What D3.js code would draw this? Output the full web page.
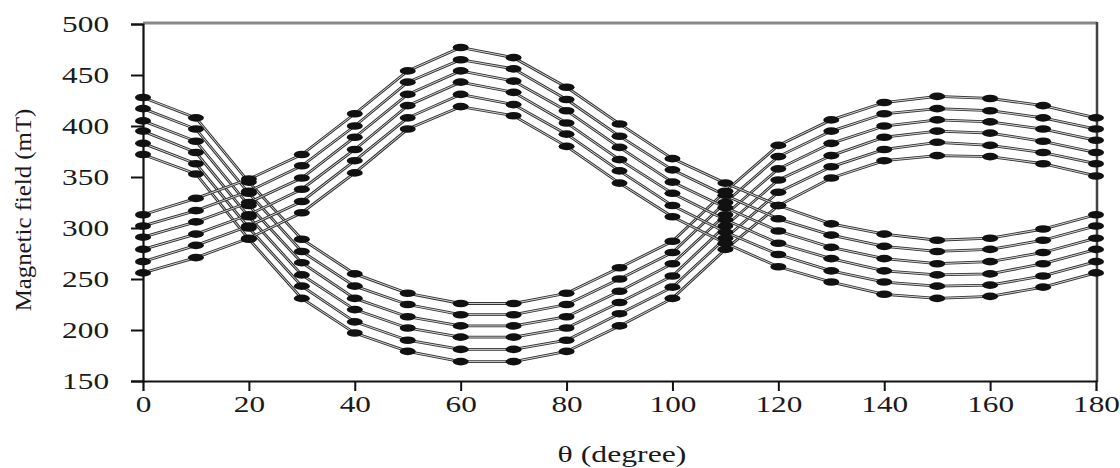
<!DOCTYPE html>
<html><head><meta charset="utf-8">
<script src="https://cdn.jsdelivr.net/npm/d3@7"></script>
<style>
html,body{margin:0;padding:0;background:#fff;}
text{font-family:"Liberation Serif","Times New Roman",serif;fill:#1a1a1a;}
</style></head>
<body><svg id="c" width="1120" height="468"></svg>
<script>
const theta = [0,10,20,30,40,50,60,70,80,90,100,110,120,130,140,150,160,170,180];
const xTicks = [0,20,40,60,80,100,120,140,160,180];
const yTicks = [150,200,250,300,350,400,450,500];

const a1 = [428,408,345,289,255,236,226,226,236,261,287,336,381,406,423,429,427,420,408];
const a2 = [417,397,334,277,243,225,215,215,225,250,276,325,370,395,412,417,415,408,397];
const a3 = [405,385,322,266,231,213,204,204,213,238,265,313,358,383,400,406,404,397,386];
const a4 = [395,374,311,254,220,202,193,193,202,227,253,302,347,371,389,395,393,385,374];
const a5 = [383,363,300,243,208,190,181,181,190,216,242,290,335,360,377,384,381,374,363];
const a6 = [372,353,289,231,197,179,169,169,179,204,231,279,322,349,366,371,370,363,351];

const b1 = [313,329,348,372,412,454,477,467,438,402,368,344,322,304,294,288,290,299,313];
const b2 = [302,317,336,361,400,443,465,456,426,390,357,332,309,293,282,277,279,288,302];
const b3 = [291,306,325,349,389,431,454,444,415,379,345,320,297,281,270,265,267,276,290];
const b4 = [279,294,313,338,377,420,443,433,403,367,334,308,285,270,258,254,255,265,279];
const b5 = [267,283,302,326,366,408,431,421,392,356,322,296,274,258,247,243,244,253,267];
const b6 = [256,271,290,315,354,397,419,410,380,344,311,285,262,247,235,231,233,242,256];

const series = [a1,a2,a3,a4,a5,a6,b1,b2,b3,b4,b5,b6];

const L = 143, R = 1096, T = 24, B = 381;
const svg = d3.select("#c");
const x = d3.scaleLinear().domain([0,180]).range([L,R]);
const y = d3.scaleLinear().domain([150,500]).range([B,T]);

// frame
svg.append("line").attr("x1",L).attr("x2",R+1).attr("y1",T-1).attr("y2",T-1)
  .attr("stroke","#888").attr("stroke-width",3);
svg.append("line").attr("x1",R+1).attr("x2",R+1).attr("y1",T-2).attr("y2",B+1)
  .attr("stroke","#444").attr("stroke-width",2.5);

// axes
const xAxis = svg.append("g").attr("transform",`translate(0,${B})`)
  .call(d3.axisBottom(x).tickValues(xTicks).tickSizeOuter(0).tickSize(10).tickPadding(5));
xAxis.selectAll(".tick").filter(d=>d===0||d===180).select("line").remove();
xAxis.select(".domain").attr("stroke","#111").attr("stroke-width",2.2);
xAxis.selectAll(".tick line").attr("stroke","#111").attr("stroke-width",2);
xAxis.selectAll(".tick text").attr("font-size",23).attr("fill","#1a1a1a")
  .attr("transform","scale(1.36,1)").attr("font-family","Liberation Serif");

const yAxis = svg.append("g").attr("transform",`translate(${L},0)`)
  .call(d3.axisLeft(y).tickValues(yTicks).tickSizeOuter(0).tickSize(12).tickPadding(12));
yAxis.select(".domain").attr("stroke","#111").attr("stroke-width",2.2);
yAxis.selectAll(".tick line").attr("stroke","#111").attr("stroke-width",2);
yAxis.selectAll(".tick text").attr("font-size",23).attr("fill","#1a1a1a")
  .attr("transform","scale(1.36,1)").attr("x",-25).attr("font-family","Liberation Serif");

// lines
const line = d3.line().x((d,i)=>x(theta[i])).y(d=>y(d));
const gl = svg.append("g");
series.forEach(s=>{
  gl.append("path").attr("d",line(s)).attr("fill","none")
    .attr("stroke","#333").attr("stroke-width",2.8);
  gl.append("path").attr("d",line(s)).attr("fill","none")
    .attr("stroke","#e4e4e4").attr("stroke-width",0.9);
});
// markers
const gm = svg.append("g");
series.forEach(s=>{
  gm.selectAll(null).data(s).enter().append("ellipse")
    .attr("cx",(d,i)=>x(theta[i])).attr("cy",d=>y(d))
    .attr("rx",8).attr("ry",3.8).attr("fill","#111");
});

// labels
svg.append("text").attr("transform","translate(31,210) rotate(-90) scale(1.08,1)")
  .attr("text-anchor","middle").attr("font-size",23).text("Magnetic field (mT)");
svg.append("text").attr("transform","translate(622,462) scale(1.38,1)")
  .attr("text-anchor","middle").attr("font-size",23).text("θ (degree)");
</script></body></html>
